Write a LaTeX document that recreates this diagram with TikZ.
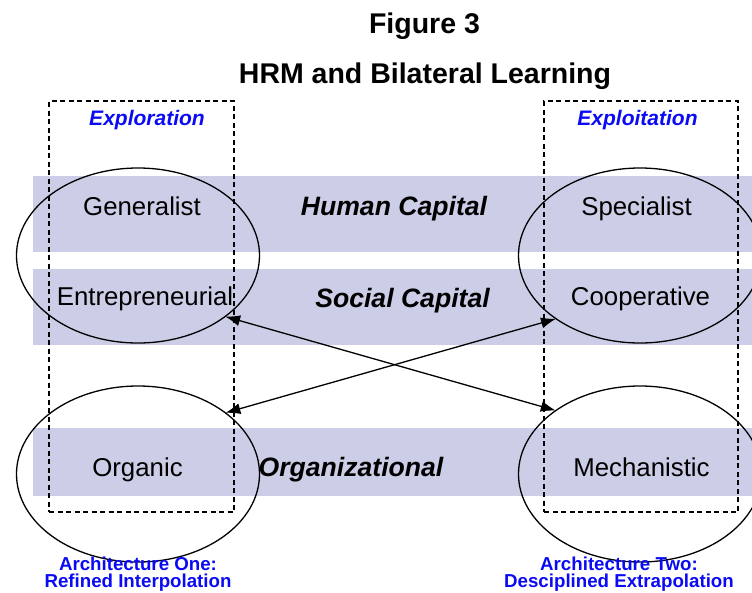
\documentclass[tikz,border=0pt]{standalone}
\usepackage{fontspec}
\setmainfont{Liberation Sans}
\usetikzlibrary{shapes.geometric,arrows.meta}
\definecolor{bandcol}{RGB}{204,205,230}
\definecolor{labblue}{RGB}{10,10,245}
\tikzset{
  band/.style={fill=bandcol,draw=none},
  dbox/.style={draw=black,line width=1.1pt,dash pattern=on 5pt off 3.5pt,rectangle,inner sep=0pt,outer sep=0pt},
  oval/.style={draw=black,line width=1.3pt,ellipse,inner sep=0pt,outer sep=0pt,minimum width=243pt},
  title/.style={font=\fontsize{28.5}{34}\selectfont\bfseries,anchor=base,inner sep=0pt},
  cell/.style={font=\fontsize{25.8}{31}\selectfont,anchor=base,inner sep=0pt},
  capital/.style={font=\fontsize{26.6}{32}\selectfont\bfseries\itshape,anchor=base,inner sep=0pt},
  modelab/.style={font=\fontsize{21}{25}\selectfont\bfseries\itshape,text=labblue,anchor=base,inner sep=0pt},
  archlab/.style={font=\fontsize{18.7}{20}\selectfont\bfseries,text=labblue,anchor=base,inner sep=0pt},
  link/.style={line width=1.3pt,{Latex[length=15pt,width=11pt]}-{Latex[length=15pt,width=11pt]}}
}
\begin{document}
\begin{tikzpicture}[x=1pt,y=-1pt]
\useasboundingbox (0,0) rectangle (752,592);
% bands
\fill[band] (33,176) rectangle (760,252);
\fill[band] (33,269) rectangle (760,345);
\fill[band] (33,428) rectangle (760,496);
% dashed boxes
\node[dbox,minimum width=185pt,minimum height=411pt] (lbox) at (141.5,306.5) {};
\node[dbox,minimum width=194pt,minimum height=411pt] (rbox) at (641,306.5) {};
% ellipses
\node[oval,minimum height=175pt] (tl) at (138,255.5) {};
\node[oval,minimum height=176pt] (bl) at (138,474) {};
\node[oval,minimum height=175pt] (tr) at (640,255.5) {};
\node[oval,minimum height=176pt] (br) at (640,474) {};
% titles
\node[title] (fig) at (424.5,33) {Figure 3};
\node[title] (hrm) at (425,83) {HRM and Bilateral Learning};
% mode labels
\node[modelab] (explor) at (147,125) {Exploration};
\node[modelab] (exploit) at (637.5,125) {Exploitation};
% cells
\node[cell] (gen) at (142,215) {Generalist};
\node[cell] (ent) at (145,305) {Entrepreneurial};
\node[cell] (org) at (137.5,476) {Organic};
\node[cell] (spe) at (636.5,215) {Specialist};
\node[cell] (coo) at (640.5,305) {Cooperative};
\node[cell] (mec) at (641.5,476) {Mechanistic};
% capital labels
\node[capital] (hc) at (394,215) {Human Capital};
\node[capital] (sc) at (402.5,307) {Social Capital};
\node[capital] (oc) at (351,476) {Organizational};
% architecture labels
\node[archlab] (a1) at (138,570) {Architecture One:};
\node[archlab] (a1b) at (138,587.5) {Refined Interpolation};
\node[archlab] (a2) at (619,570) {Architecture Two:};
\node[archlab] (a2b) at (619,587.5) {Desciplined Extrapolation};
% connectors
\draw[link] (tl.-35.6) -- (br.143.5);
\draw[link] (bl.35.3) -- (tr.217);
\end{tikzpicture}
\end{document}
